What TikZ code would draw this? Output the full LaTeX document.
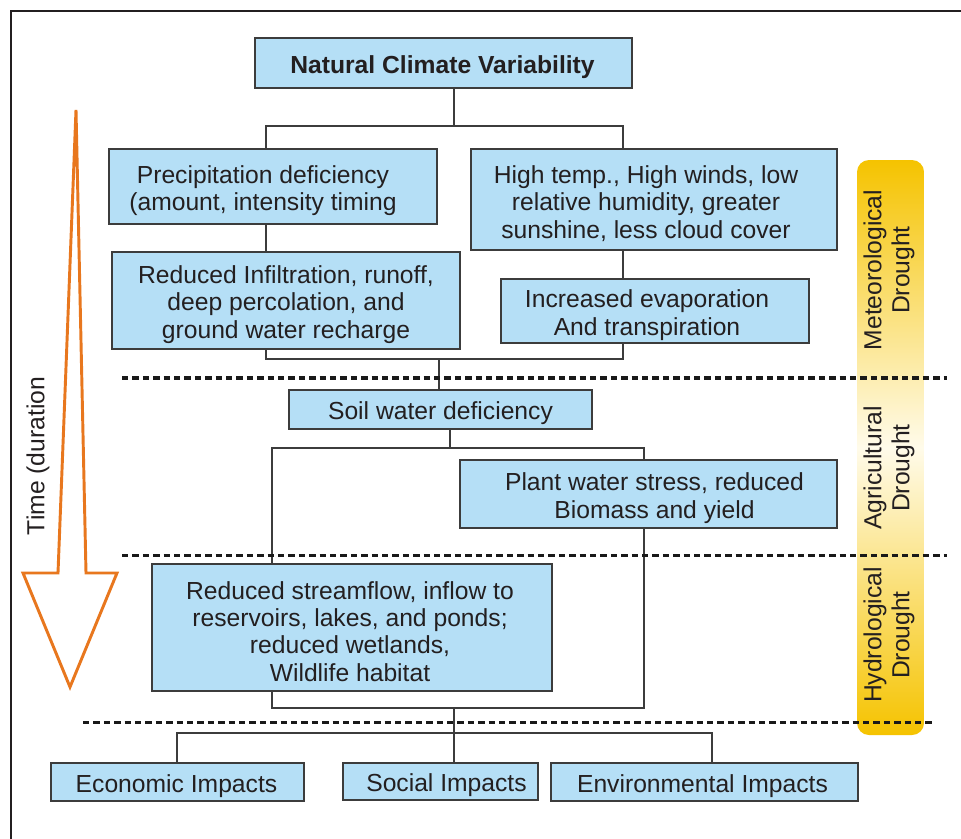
\documentclass[tikz,border=0pt]{standalone}
\usepackage{fontspec}
\setmainfont{Liberation Sans}
\definecolor{boxblue}{HTML}{B5DFF6}
\definecolor{boxline}{HTML}{3C3C3C}
\definecolor{txt}{HTML}{231F20}
\definecolor{arrowor}{HTML}{E8771E}
\definecolor{gold}{HTML}{F5C300}
\definecolor{cream}{HTML}{FFFBEA}
\pgfdeclareverticalshading{barshade}{100bp}{color(0bp)=(gold); color(25bp)=(gold); color(50bp)=(cream); color(75bp)=(gold); color(100bp)=(gold)}
\tikzset{
  box/.style={draw=boxline, fill=boxblue, line width=1pt, inner sep=0pt},
  boxtext/.style={align=center, text=txt, inner sep=0pt, font=\fontsize{18.5}{20.5}\selectfont},
  conn/.style={draw=boxline, line width=0.95pt},
  barlbl/.style={rotate=90, align=center, text=txt, font=\fontsize{18.5}{21}\selectfont, inner sep=0pt},
  divider/.style={draw=black!90, line width=2.5pt, dash pattern=on 4.8pt off 3pt},
}
% name, cx, cy, width(pt), height(pt), text x-offset (px), text
\newcommand{\bbox}[7]{%
  \node[box, minimum width=#4pt, minimum height=#5pt] (#1) at (#2,#3) {};
  \node[boxtext] (#1-t) at ([yshift=-3pt,xshift=#6*0.75pt]#1.center) {#7};
}
\begin{document}
\begin{tikzpicture}[x=0.75pt, y=-0.75pt]
\useasboundingbox (0,0) rectangle (961,839);
\fill[white] (0,0) rectangle (961,839);
% frame
\draw[txt, line width=2pt] (11,839) -- (11,11) -- (961,11);

% gradient bar
\shade[shading=barshade, rounded corners=9pt] (857,160) rectangle (924,735);
\node[barlbl] (met) at (889,270) {Meteorological\\Drought};
\node[barlbl] (agr) at (889,468) {Agricultural\\Drought};
\node[barlbl] (hyd) at (889,635) {Hydrological\\Drought};

% time arrow
\draw[arrowor, line width=2.2pt, line join=miter] (76,110) -- (86,573) -- (117,573) -- (70,687) -- (23,573) -- (58,573) -- cycle;
\node[rotate=90, text=txt, font=\fontsize{18.5}{19.5}\selectfont, inner sep=0pt] (time) at (38,456) {Time (duration};

% boxes
\bbox{ncv}{443.5}{63}{282.75}{37.5}{-1}{\bfseries Natural Climate Variability}
\bbox{precip}{273}{186.5}{246}{56.25}{-10}{Precipitation deficiency\\(amount, intensity timing}
\bbox{hightemp}{654}{199.5}{274.5}{75.75}{-8}{High temp., High winds, low\\relative humidity, greater\\sunshine, less cloud cover}
\bbox{infil}{286}{300.5}{261}{72.75}{0}{Reduced Infiltration, runoff,\\deep percolation, and\\ground water recharge}
\bbox{evap}{655}{311}{231}{48}{-8}{Increased evaporation\\And transpiration}
\bbox{soil}{440.5}{409.5}{227.25}{29.25}{0}{Soil water deficiency}
\bbox{plant}{648.5}{494}{282.75}{51}{6}{Plant water stress, reduced\\Biomass and yield}
\bbox{stream}{352}{627.5}{300}{95.25}{-2}{Reduced streamflow, inflow to\\reservoirs, lakes, and ponds;\\reduced wetlands,\\Wildlife habitat}
\bbox{econ}{177.5}{782}{189.75}{28.5}{-1}{Economic Impacts}
\bbox{social}{440.5}{781.5}{146.25}{27.75}{6}{Social Impacts}
\bbox{env}{704.5}{782}{230.25}{28.5}{-2}{Environmental Impacts}

% junction coordinates
\coordinate (t1) at (454,126);
\coordinate (t1l) at (266,126);
\coordinate (t1r) at (623,126);
\coordinate (m1) at (439,359);
\coordinate (m1l) at (266,359);
\coordinate (m1r) at (623,359);
\coordinate (s1) at (450,448);
\coordinate (s1l) at (272,448);
\coordinate (s1r) at (644,448);
\coordinate (b1) at (454,708);
\coordinate (b1l) at (272,708);
\coordinate (b1r) at (644,708);
\coordinate (b2l) at (177,733);
\coordinate (b2r) at (712,733);

% connectors
\draw[conn] (t1 |- ncv.south) -- (t1);
\draw[conn] (t1l |- precip.north) -- (t1l) -- (t1r) -- (t1r |- hightemp.north);
\draw[conn] (t1l |- precip.south) -- (t1l |- infil.north);
\draw[conn] (t1r |- hightemp.south) -- (t1r |- evap.north);
\draw[conn] (m1l |- infil.south) -- (m1l) -- (m1r) -- (m1r |- evap.south);
\draw[conn] (m1) -- (m1 |- soil.north);
\draw[conn] (s1 |- soil.south) -- (s1);
\draw[conn] (s1l |- stream.north) -- (s1l) -- (s1r) -- (s1r |- plant.north);
\draw[conn] (b1l |- stream.south) -- (b1l) -- (b1r) -- (b1r |- plant.south);
\draw[conn] (b1) -- (b1 |- social.north);
\draw[conn] (b2l |- econ.north) -- (b2l) -- (b2r) -- (b2r |- env.north);

% dividers
\coordinate (d1a) at (122,378); \coordinate (d1b) at (947,378);
\coordinate (d2a) at (122,555.5); \coordinate (d2b) at (947,555.5);
\coordinate (d3a) at (83,722.5); \coordinate (d3b) at (935,722.5);
\draw[divider] (d1a) -- (d1b);
\draw[divider] (d2a) -- (d2b);
\draw[divider] (d3a) -- (d3b);
\end{tikzpicture}
\end{document}
